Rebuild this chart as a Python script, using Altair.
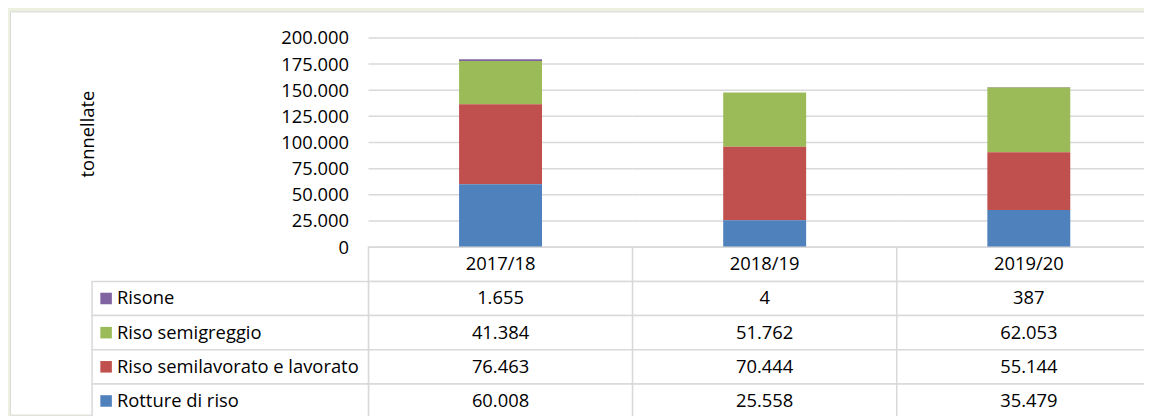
import altair as alt
import pandas as pd

# ---------------- data ----------------
years = ["2017/18", "2018/19", "2019/20"]
series = ["Risone", "Riso semigreggio", "Riso semilavorato e lavorato", "Rotture di riso"]
risone = [1655, 4, 387]
semigreggio = [41384, 51762, 62053]
semilavorato = [76463, 70444, 55144]
rotture = [60008, 25558, 35479]
colors = ["#8064A2", "#9BBB59", "#C0504D", "#4F81BD"]
y_ticks = [0, 25000, 50000, 75000, 100000, 125000, 150000, 175000, 200000]
header_key = "Campagna"
title_text = "ottobre 2019, e confronto con le campagne precedenti"
y_title = "tonnellate"

values = [risone, semigreggio, semilavorato, rotture]


def it_num(v):
    return f"{v:,}".replace(",", ".")


bar_rows = []
for s_idx, (name, vals) in enumerate(zip(series, values)):
    for year, v in zip(years, vals):
        bar_rows.append({"year": year, "series": name, "value": v,
                         "stack": len(series) - 1 - s_idx})
bars_df = pd.DataFrame(bar_rows)

table_rows = [header_key] + series
cell_rows = [{"row": header_key, "year": y, "text": y} for y in years]
for name, vals in zip(series, values):
    for year, v in zip(years, vals):
        cell_rows.append({"row": name, "year": year, "text": it_num(v)})
cells_df = pd.DataFrame(cell_rows)

lbl_df = pd.DataFrame({"row": series, "series": series, "col": ["label"] * len(series)})
grid_df = pd.DataFrame([{"tick": t, "year": y} for t in y_ticks for y in years])

# ---------------- style ----------------
FONT = "Open Sans"
FS = 18.5
GRID = "#D9D9D9"
TXT = "#000000"

xs_year = alt.Scale(domain=years, range=[361, 1159], paddingInner=0, paddingOuter=0)
ys_val = alt.Scale(domain=[0, 200000], range=[237.3, 26.7], nice=False, zero=True)
ys_row = alt.Scale(domain=table_rows, range=[237.5, 409.5], paddingInner=0, paddingOuter=0)
# label column of the data table
xs_lbl_band = alt.Scale(domain=["label"], range=[82.7, 361], paddingInner=0, paddingOuter=0)
xs_lbl = alt.Scale(domain=[0, 1], range=[82.7, 361], nice=False, zero=False)
col_scale = alt.Scale(domain=series, range=colors)

grid = alt.Chart(grid_df).mark_rule(color=GRID, strokeWidth=1.5).encode(
    x=alt.X("year:N", scale=xs_year, axis=None, bandPosition=0),
    x2=alt.X2("year", bandPosition=1),
    y=alt.Y("tick:Q", scale=ys_val, axis=None),
)

bars = alt.Chart(bars_df).mark_bar(width=alt.RelativeBandSize(0.314)).encode(
    x=alt.X("year:N", scale=xs_year, axis=None),
    y=alt.Y("value:Q", stack="zero", scale=ys_val,
            axis=alt.Axis(values=y_ticks, title=y_title, offset=-361, ticks=False,
                          domain=False, grid=False, labelPadding=20,
                          labelExpr="replace(format(datum.value, ',.0f'), ',', '.')",
                          labelFont=FONT, labelFontSize=FS, labelColor=TXT,
                          titleFont=FONT, titleFontSize=FS, titleFontWeight="normal",
                          titleColor=TXT, titleX=-283, titleY=123, titleAngle=270,
                          titleAlign="center", titleBaseline="middle")),
    color=alt.Color("series:N", scale=col_scale, legend=None),
    order=alt.Order("stack:Q"),
)

cells = alt.Chart(cells_df).mark_rect(fill="white", stroke=GRID, strokeWidth=1.5).encode(
    x=alt.X("year:N", scale=xs_year, axis=None),
    y=alt.Y("row:N", scale=ys_row, axis=None),
)

cell_text = alt.Chart(cells_df).mark_text(font=FONT, fontSize=FS, color=TXT, baseline="middle").encode(
    x=alt.X("year:N", scale=xs_year, axis=None),
    y=alt.Y("row:N", scale=ys_row, axis=None),
    text="text:N",
)

lbl_cells = alt.Chart(lbl_df).mark_rect(fill="white", stroke=GRID, strokeWidth=1.5).encode(
    x=alt.X("col:N", scale=xs_lbl_band, axis=None),
    y=alt.Y("row:N", scale=ys_row, axis=None),
)

lbl_text = alt.Chart(lbl_df).mark_text(font=FONT, fontSize=FS, color=TXT, align="left",
                                        baseline="middle", dx=25).encode(
    x=alt.X(datum=0, type="quantitative", scale=xs_lbl, axis=None),
    y=alt.Y("row:N", scale=ys_row, axis=None),
    text="series:N",
)

squares = alt.Chart(lbl_df).mark_square(size=135, opacity=1, xOffset=14.1).encode(
    x=alt.X(datum=0, type="quantitative", scale=xs_lbl, axis=None),
    y=alt.Y("row:N", scale=ys_row, axis=None),
    color=alt.Color("series:N", scale=col_scale, legend=None),
)

chart = alt.layer(grid, bars, cells, cell_text, lbl_cells, lbl_text, squares).resolve_scale(
    x="independent", y="independent"
).properties(
    width=1142,
    height=406,
    autosize=alt.AutoSizeParams(type="none"),
    padding={"left": 2, "top": 2, "right": 0, "bottom": 0},
    background="#EBF1DE",
    title=alt.TitleParams(title_text, anchor="start", font=FONT, fontSize=18,
                          fontWeight="bold", color="#4F6228", offset=0, baseline="bottom"),
).configure_view(fill="white", stroke=GRID, strokeWidth=1)

chart.save("out.html", embed_options={"renderer": "svg", "actions": False})
